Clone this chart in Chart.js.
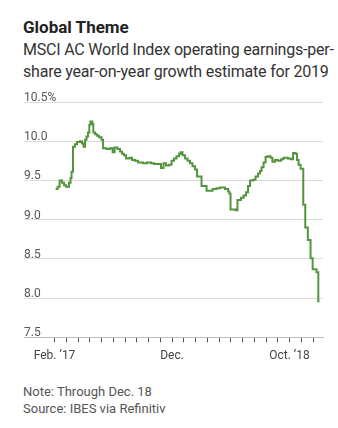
<!DOCTYPE html>
<html>
<head>
<meta charset="utf-8">
<script src="https://cdn.jsdelivr.net/npm/chart.js@4.4.1/dist/chart.umd.min.js"></script>
<style>
  body { margin: 0; background: #fff; font-family: Roboto, "Noto Sans", sans-serif; }
  #wrap { position: relative; width: 338px; height: 428px; overflow: hidden; }
  .title { position: absolute; left: 23px; top: 19px; font-size: 17px; line-height: 17px; font-weight: 700; color: #222; }
  .sub { position: absolute; left: 23px; top: 39px; font-size: 16px; line-height: 22px; color: #333; letter-spacing: -0.2px; }
  .notes { position: absolute; left: 23px; top: 384px; font-size: 13px; line-height: 16.7px; color: #555; }
  #chartBox { position: absolute; left: 0; top: 80px; }
</style>
</head>
<body>
<div id="wrap">
  <div class="title">Global Theme</div>
  <div class="sub">MSCI AC World Index operating earnings-per-<br>share year-on-year growth estimate for 2019</div>
  <div id="chartBox"><canvas id="c" width="338" height="290"></canvas></div>
  <div class="notes">Note: Through Dec. 18<br>Source: IBES via Refinitiv</div>
</div>
<script>
// months after Feb. 1, 2017 at which each estimate takes effect
const months = [
  0.09, 0.26, 0.43, 0.64, 0.81, 0.98, 1.23, 1.36, 1.45, 1.57,
  1.74, 1.91, 2.17, 2.34, 2.47, 2.60, 2.72, 2.85, 2.96, 3.06,
  3.22, 3.30, 3.45, 3.62, 3.79, 4.00, 4.13, 4.43, 4.72, 4.94,
  5.11, 5.36, 5.57, 5.74, 5.91, 6.09, 6.38, 6.60, 6.85, 7.11,
  7.53, 7.87, 8.21, 8.47, 9.06, 9.28, 9.49, 9.74, 9.96, 10.17,
  10.38, 10.60, 10.72, 10.89, 11.11, 11.32, 11.53, 11.74, 11.96, 12.13,
  12.51, 12.94, 13.45, 13.79, 14.09, 14.51, 14.77, 14.89, 14.98, 15.40,
  15.57, 15.87, 16.09, 16.30, 16.47, 16.64, 16.89, 17.11, 17.32, 17.49,
  17.62, 17.79, 17.96, 18.13, 18.38, 18.55, 18.77, 19.02, 19.28, 19.49,
  19.87, 20.09, 20.30, 20.51, 20.64, 20.77, 20.94, 21.17, 21.34, 21.56,
  21.79, 21.97, 22.30, 22.45, 22.55
];
// EPS growth estimate, %
const growth = [
  9.39, 9.42, 9.50, 9.47, 9.44, 9.42, 9.47, 9.53, 9.61, 9.93,
  9.96, 9.99, 10.00, 9.97, 9.93, 10.02, 10.06, 10.11, 10.21, 10.25,
  10.22, 10.11, 10.09, 10.07, 10.05, 10.02, 9.91, 9.90, 9.91, 9.86,
  9.92, 9.90, 9.87, 9.84, 9.82, 9.78, 9.79, 9.76, 9.75, 9.73,
  9.72, 9.73, 9.72, 9.71, 9.66, 9.72, 9.69, 9.70, 9.75, 9.78,
  9.81, 9.84, 9.86, 9.82, 9.78, 9.75, 9.72, 9.68, 9.64, 9.55,
  9.43, 9.37, 9.39, 9.40, 9.41, 9.39, 9.36, 9.33, 9.13, 9.12,
  9.25, 9.28, 9.31, 9.35, 9.43, 9.50, 9.51, 9.55, 9.59, 9.62,
  9.67, 9.73, 9.80, 9.81, 9.79, 9.74, 9.76, 9.75, 9.77, 9.79,
  9.78, 9.77, 9.85, 9.84, 9.76, 9.70, 9.65, 9.19, 8.90, 8.74,
  8.51, 8.37, 8.33, 7.96, 7.96
];
const yTicks = [7.5, 8.0, 8.5, 9.0, 9.5, 10.0, 10.5];
const xTickMonths = [0, 10, 20];
const xTickLabels = ["Feb. \u201917", "Dec.", "Oct. \u201918"];

const points = months.map((m, i) => ({ x: m, y: growth[i] }));

new Chart(document.getElementById("c"), {
  type: "line",
  data: {
    datasets: [{
      data: points,
      borderColor: "#54943f",
      borderWidth: 2,
      pointRadius: 0,
      stepped: true,
      fill: false
    }]
  },
  options: {
    responsive: false,
    animation: false,
    devicePixelRatio: 1,
    layout: { padding: { left: 24, right: 15, top: 22, bottom: 0 } },
    plugins: { legend: { display: false }, tooltip: { enabled: false } },
    scales: {
      x: {
        type: "linear",
        min: -2.6,
        max: 22.85,
        afterBuildTicks: (scale) => {
          const t = [];
          for (let m = 0; m <= 22; m++) t.push({ value: m });
          scale.ticks = t;
        },
        grid: { drawOnChartArea: false, drawTicks: true, tickLength: 5, color: "#555" },
        border: { display: true, color: "#bbb", dash: [1, 2] },
        ticks: {
          autoSkip: false,
          maxRotation: 0,
          padding: 6.6,
          color: "#444",
          font: { family: "Roboto", size: 12 },
          callback: (v) => {
            const i = xTickMonths.indexOf(v);
            return i >= 0 ? xTickLabels[i] : "";
          }
        }
      },
      y: {
        min: 7.5,
        max: 10.5,
        afterBuildTicks: (scale) => { scale.ticks = yTicks.map(v => ({ value: v })); },
        grid: {
          drawTicks: false,
          color: (ctx) => ctx.tick && ctx.tick.value === 7.5 ? "rgba(0,0,0,0)" : "#dcdcdc"
        },
        border: { display: false },
        ticks: {
          mirror: true,
          padding: 0,
          labelOffset: -4,
          color: "#555",
          font: { family: "Roboto", size: 12 },
          callback: (v) => v === 10.5 ? "10.5%" : v.toFixed(1)
        }
      }
    }
  }
});
</script>
</body>
</html>
